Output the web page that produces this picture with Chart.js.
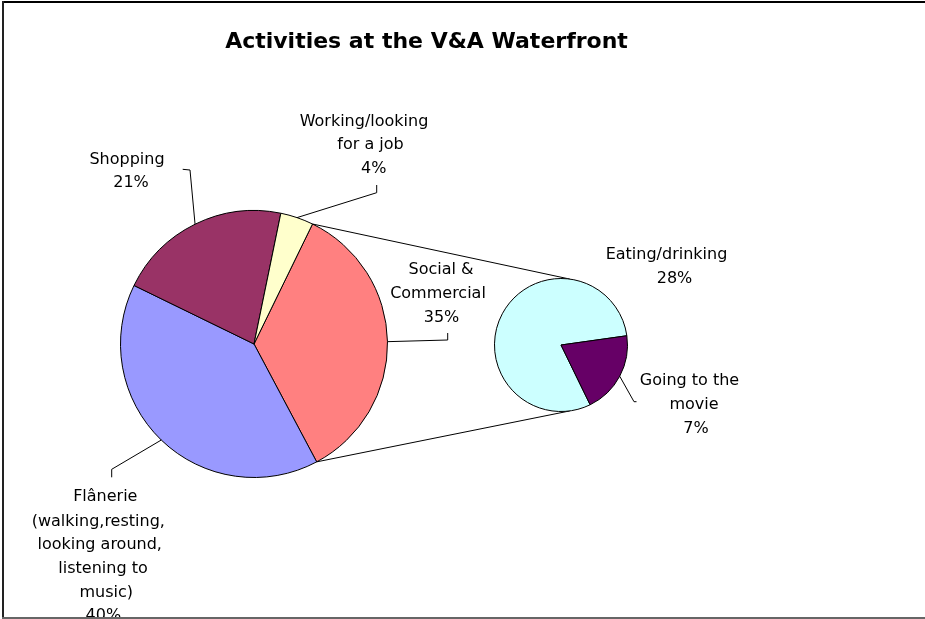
<!DOCTYPE html>
<html><head><meta charset="utf-8">
<script src="https://cdn.jsdelivr.net/npm/chart.js@4"></script>
<style>
html,body{margin:0;padding:0;background:#fff;overflow:hidden}
#wrap{position:relative;width:925px;height:619px}
canvas{position:absolute;left:0;top:0}
</style></head><body>
<div id="wrap"><canvas id="main" width="925" height="619"></canvas><canvas id="sub" width="925" height="619"></canvas></div>
<script>
const chartTitle = 'Activities at the V&A Waterfront';
const mainCategories = ['Social & Commercial', 'Flânerie (walking,resting, looking around, listening to music)', 'Shopping', 'Working/looking for a job'];
const mainValues = [35, 40, 21, 4];
const mainLabelLines = [['Social &', 'Commercial'], ['Flânerie', '(walking,resting,', 'looking around,', 'listening to', 'music)'], ['Shopping'], ['Working/looking', 'for a job']];
const subCategories = ['Eating/drinking', 'Going to the movie'];
const subValues = [28, 7];
const subLabelLines = [['Eating/drinking'], ['Going to the', 'movie']];

const mainColors = ['#FF8080', '#9999FF', '#993366', '#FFFFCC'];
const subColors = ['#CCFFFF', '#660066'];
const total = mainValues.reduce((a, b) => a + b, 0);
const pct = v => Math.round(v / total * 100) + '%';

const FONT = '"DejaVu Sans", Verdana, sans-serif';

// label placement (style only)
const mainLayout = [
  {lines: [[441, 270], [438, 294], [441.5, 318]], leader: [[447.7, 340], [447.7, 333]]},
  {lines: [[105.3, 497], [98.3, 521.5], [99.7, 545], [103, 569], [106.3, 592.7], [103.3, 616]], leader: [[111.7, 469.3], [111.7, 477.3]]},
  {lines: [[127, 160], [131, 183.3]], leader: [[190, 170], [182.7, 169.3]]},
  {lines: [[364, 121.7], [370.5, 145], [373.7, 169.3]], leader: [[376.7, 192.7], [376.7, 185]]}
];
const subLayout = [
  {lines: [[666.5, 255], [674.5, 278.5]], leader: null},
  {lines: [[689.5, 381], [694, 405], [696, 429]], leader: [[634, 401.7], [636.5, 401.7]]}
];

function edgeMid(el) {
  const m = (el.startAngle + el.endAngle) / 2;
  return [el.x + el.outerRadius * Math.cos(m), el.y + el.outerRadius * Math.sin(m)];
}
function drawLabel(ctx, lines, layout, el) {
  ctx.fillStyle = '#000';
  ctx.font = '16px ' + FONT;
  ctx.textAlign = 'center';
  ctx.textBaseline = 'middle';
  lines.forEach((t, i) => ctx.fillText(t, layout.lines[i][0], layout.lines[i][1]));
  if (layout.leader) {
    const p = edgeMid(el);
    ctx.beginPath();
    ctx.moveTo(p[0], p[1]);
    layout.leader.forEach(q => ctx.lineTo(q[0], q[1]));
    ctx.strokeStyle = '#000';
    ctx.lineWidth = 1;
    ctx.stroke();
  }
}

const subChart = new Chart(document.getElementById('sub'), {
  type: 'pie',
  data: {labels: subCategories, datasets: [{data: subValues, backgroundColor: subColors, borderColor: '#000', borderWidth: 1, hoverOffset: 0}]},
  options: {
    responsive: false, animation: false, events: [], rotation: 154,
    layout: {padding: {left: 494, right: 297, top: 278, bottom: 207}},
    plugins: {legend: {display: false}, tooltip: {enabled: false}, title: {display: false}}
  }
});

const decor = {
  id: 'decor',
  afterDraw(chart) {
    const ctx = chart.ctx;
    const arcs = chart.getDatasetMeta(0).data;
    const subArcs = subChart.getDatasetMeta(0).data;
    ctx.save();
    ctx.beginPath();
    ctx.rect(0, 0, 925, 617);
    ctx.clip();
    // connector lines between main slice and secondary pie
    const s = arcs[0];
    const c = subArcs[0];
    const a1 = s.startAngle, a2 = s.endAngle;
    const t1 = (7.6 - 90) * Math.PI / 180, t2 = (172.4 - 90) * Math.PI / 180;
    ctx.strokeStyle = '#000';
    ctx.lineWidth = 1;
    ctx.beginPath();
    ctx.moveTo(s.x + s.outerRadius * Math.cos(a1), s.y + s.outerRadius * Math.sin(a1));
    ctx.lineTo(c.x + c.outerRadius * Math.cos(t1), c.y + c.outerRadius * Math.sin(t1));
    ctx.moveTo(s.x + s.outerRadius * Math.cos(a2), s.y + s.outerRadius * Math.sin(a2));
    ctx.lineTo(c.x + c.outerRadius * Math.cos(t2), c.y + c.outerRadius * Math.sin(t2));
    ctx.stroke();
    // labels
    mainValues.forEach((v, i) => drawLabel(ctx, mainLabelLines[i].concat([pct(v)]), mainLayout[i], arcs[i]));
    subValues.forEach((v, i) => drawLabel(ctx, subLabelLines[i].concat([pct(v)]), subLayout[i], subArcs[i]));
    // title
    ctx.font = 'bold 22px ' + FONT;
    ctx.textAlign = 'center';
    ctx.textBaseline = 'alphabetic';
    ctx.fillStyle = '#000';
    ctx.fillText(chartTitle, 426.5, 48);
    ctx.restore();
    // frame
    ctx.fillStyle = '#000';
    ctx.fillRect(2, 1, 923, 2);
    ctx.fillStyle = '#222';
    ctx.fillRect(2, 1, 2, 618);
    ctx.fillStyle = '#666';
    ctx.fillRect(2, 617, 923, 2);
  }
};

const mainChart = new Chart(document.getElementById('main'), {
  type: 'pie',
  data: {labels: mainCategories, datasets: [{data: mainValues, backgroundColor: mainColors, borderColor: '#000', borderWidth: 1, hoverOffset: 0}]},
  options: {
    responsive: false, animation: false, events: [], rotation: 26,
    layout: {padding: {left: 120, right: 537, top: 210, bottom: 141}},
    plugins: {legend: {display: false}, tooltip: {enabled: false}, title: {display: false}}
  },
  plugins: [decor]
});
</script>
</body></html>
